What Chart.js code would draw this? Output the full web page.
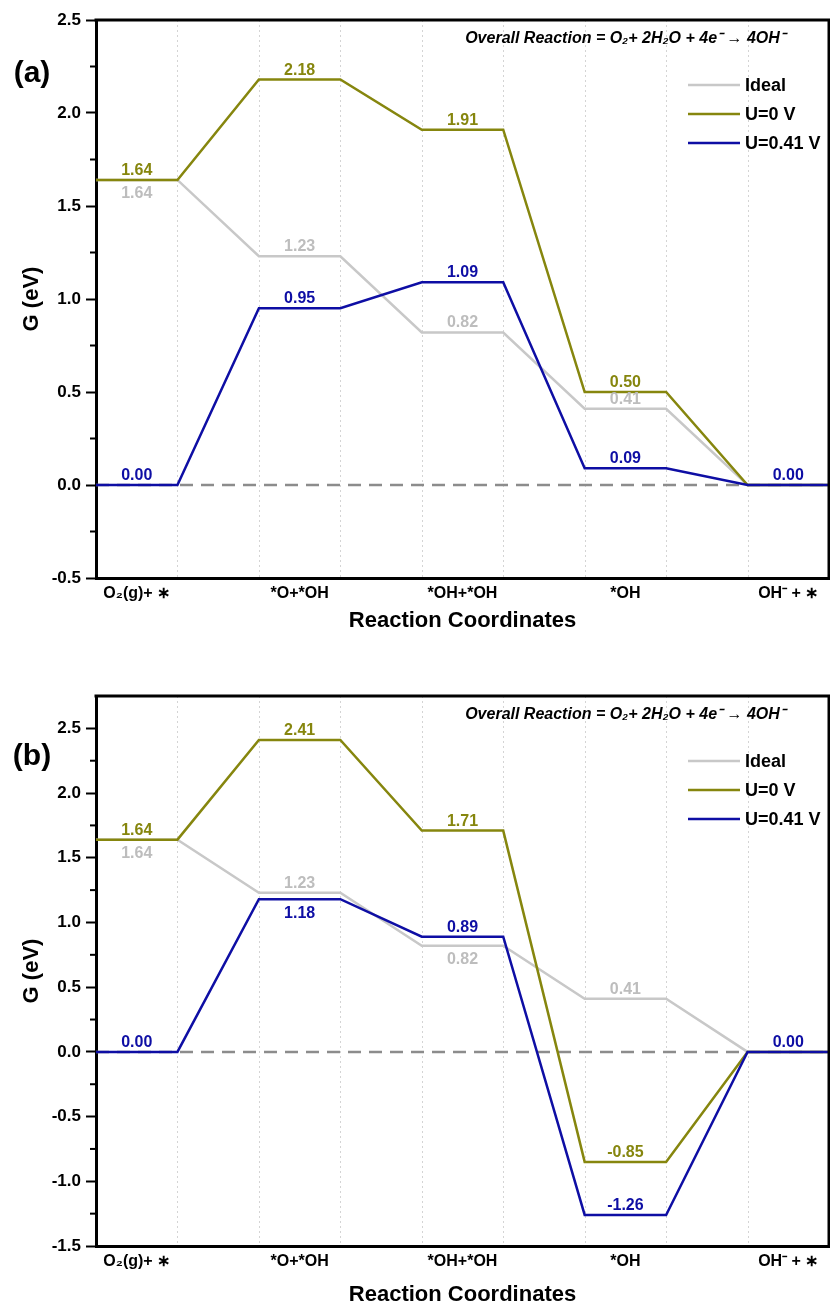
<!DOCTYPE html>
<html>
<head>
<meta charset="utf-8">
<script src="https://cdn.jsdelivr.net/npm/chart.js@4.4.0/dist/chart.umd.min.js"></script>
<style>
    html, body { margin: 0; padding: 0; background: #fff; }
    #wrap-a { position: absolute; left: 0; top: 0; width: 830px; height: 640px; }
    #wrap-b { position: absolute; left: 0; top: 640px; width: 830px; height: 668px; }
</style>
</head>
<body>
<div id="wrap-a"><canvas id="chart-a"></canvas></div>
<div id="wrap-b"><canvas id="chart-b"></canvas></div>
<script>
// reaction steps (x categories)
const steps = ['O\u2082(g)+ \u2217', '*O+*OH', '*OH+*OH', '*OH', 'OH\u207B + \u2217'];
const seriesNames = ['Ideal', 'U=0 V', 'U=0.41 V'];

// panel (a)
const idealA = [1.64, 1.23, 0.82, 0.41, 0.00];
const u0A = [1.64, 2.18, 1.91, 0.50, 0.00];
const u041A = [0.00, 0.95, 1.09, 0.09, 0.00];
const yTicksA = [-0.5, 0, 0.5, 1.0, 1.5, 2.0, 2.5];

// panel (b)
const idealB = [1.64, 1.23, 0.82, 0.41, 0.00];
const u0B = [1.64, 2.41, 1.71, -0.85, 0.00];
const u041B = [0.00, 1.18, 0.89, -1.26, 0.00];
const yTicksB = [-1.5, -1.0, -0.5, 0, 0.5, 1.0, 1.5, 2.0, 2.5];

const FONT = '"Liberation Sans", Arial, Helvetica, sans-serif';
const COLORS = ['#c8c8c8', '#86860e', '#0e0ea4'];
const TEXT_COLORS = ['#bdbdbd', '#86860e', '#0e0ea4'];

// each level occupies [2i, 2i+1] on the x scale, joined by sloped connectors
function levelPoints(values) {
    return values.flatMap((v, i) => [{ x: 2 * i, y: v }, { x: 2 * i + 1, y: v }]);
}
const levelCenters = steps.map((s, i) => 2 * i + 0.5);

// dotted step separators, frame, minor ticks
const framePlugin = {
    id: 'frame',
    beforeDatasetsDraw(chart) {
        const { ctx, chartArea: a, scales: { x } } = chart;
        ctx.save();
        ctx.strokeStyle = '#d4d4d4';
        ctx.lineWidth = 1;
        ctx.setLineDash([2, 3]);
        for (let k = 1; k < 2 * steps.length - 1; k++) {
            const px = Math.round(x.getPixelForValue(k)) + 0.5;
            ctx.beginPath();
            ctx.moveTo(px, a.top);
            ctx.lineTo(px, a.bottom);
            ctx.stroke();
        }
        ctx.restore();
    },
    afterDraw(chart) {
        const { ctx, chartArea: a, scales: { y } } = chart;
        ctx.save();
        ctx.strokeStyle = '#000';
        ctx.lineWidth = 3;
        ctx.beginPath();
        ctx.moveTo(a.left - 1.5, a.top);
        ctx.lineTo(a.right, a.top);
        ctx.lineTo(a.right, a.bottom + 1.5);
        ctx.stroke();
        // minor ticks every 0.25
        ctx.lineWidth = 2;
        for (let v = y.min + 0.25; v < y.max; v += 0.5) {
            const py = y.getPixelForValue(v);
            ctx.beginPath();
            ctx.moveTo(a.left - 6, py);
            ctx.lineTo(a.left, py);
            ctx.stroke();
        }
        ctx.restore();
    }
};

// value labels, legend, reaction text, panel letter
const annotatePlugin = {
    id: 'annotate',
    afterDatasetsDraw(chart, args, opts) {
        const { ctx, chartArea: a, scales: { x, y } } = chart;
        ctx.save();
        ctx.font = 'bold 16px ' + FONT;
        ctx.textAlign = 'center';
        chart.data.datasets.forEach(ds => {
            if (ds.seriesIndex === undefined) return;
            const sides = opts.sides[ds.seriesIndex];
            ds.levelValues.forEach((v, i) => {
                const side = sides[i];
                if (!side) return;
                const px = x.getPixelForValue(levelCenters[i]);
                const py = y.getPixelForValue(v);
                ctx.fillStyle = TEXT_COLORS[ds.seriesIndex];
                if (side === 'above') {
                    ctx.textBaseline = 'alphabetic';
                    ctx.fillText(v.toFixed(2), px, py - 5);
                } else {
                    ctx.textBaseline = 'top';
                    ctx.fillText(v.toFixed(2), px, py + 6);
                }
            });
        });

        // legend
        ctx.font = 'bold 18px ' + FONT;
        ctx.textAlign = 'left';
        ctx.textBaseline = 'middle';
        seriesNames.forEach((name, i) => {
            const ly = a.top + 65 + i * 29;
            const lx = a.right - 141;
            ctx.strokeStyle = COLORS[i];
            ctx.lineWidth = 2.5;
            ctx.beginPath();
            ctx.moveTo(lx, ly);
            ctx.lineTo(lx + 52, ly);
            ctx.stroke();
            ctx.fillStyle = '#000';
            ctx.fillText(name, lx + 57, ly + 1);
        });

        // overall reaction
        ctx.font = 'italic bold 16px ' + FONT;
        ctx.textAlign = 'center';
        ctx.fillText('Overall Reaction = O\u2082+ 2H\u2082O + 4e\u207B \u2192 4OH\u207B', 625, a.top + 19);

        // panel letter
        ctx.font = 'bold 30px ' + FONT;
        ctx.fillText(opts.letter, 32, opts.letterY);
        ctx.restore();
    }
};

function makeChart(canvasId, ideal, u0, u041, yMin, yMax, yTicks, topPad, titlePad, letter, letterY, sides) {
    const values = [ideal, u0, u041];
    const datasets = values.map((vals, i) => ({
        label: seriesNames[i],
        seriesIndex: i,
        levelValues: vals,
        data: levelPoints(vals),
        borderColor: COLORS[i],
        borderWidth: 2.5,
        pointRadius: 0,
        tension: 0,
        order: 2 - i
    }));
    datasets.push({
        label: 'zero',
        data: [{ x: 0, y: 0 }, { x: 2 * steps.length - 1, y: 0 }],
        borderColor: '#8c8c8c',
        borderWidth: 2.5,
        borderDash: [13, 8],
        pointRadius: 0,
        order: 5
    });

    return new Chart(document.getElementById(canvasId), {
        type: 'line',
        data: { datasets: datasets },
        plugins: [framePlugin, annotatePlugin],
        options: {
            responsive: true,
            maintainAspectRatio: false,
            animation: false,
            layout: { padding: { top: topPad, right: 1, left: 0, bottom: 0 } },
            plugins: {
                legend: { display: false },
                tooltip: { enabled: false },
                annotate: { letter: letter, letterY: letterY, sides: sides }
            },
            scales: {
                x: {
                    type: 'linear',
                    min: 0,
                    max: 2 * steps.length - 1,
                    afterBuildTicks: s => { s.ticks = levelCenters.map(v => ({ value: v })); },
                    afterFit: s => { s.height = 62; },
                    grid: { display: false, drawTicks: false },
                    border: { display: true, color: '#000', width: 3 },
                    ticks: {
                        color: '#000',
                        font: { family: FONT, size: 16, weight: 'bold' },
                        padding: 6,
                        maxRotation: 0,
                        autoSkip: false,
                        callback: v => steps[levelCenters.indexOf(v)] || ''
                    },
                    title: {
                        display: true,
                        text: 'Reaction Coordinates',
                        color: '#000',
                        font: { family: FONT, size: 22, weight: 'bold' },
                        padding: { top: 0, bottom: titlePad }
                    }
                },
                y: {
                    min: yMin,
                    max: yMax,
                    afterBuildTicks: s => { s.ticks = yTicks.map(v => ({ value: v })); },
                    afterFit: s => { s.width = 96; },
                    grid: { drawOnChartArea: false, drawTicks: true, tickLength: 10, tickWidth: 2, tickColor: '#000', color: '#000' },
                    border: { display: true, color: '#000', width: 3 },
                    ticks: {
                        color: '#000',
                        font: { family: FONT, size: 17, weight: 'bold' },
                        padding: 5,
                        callback: v => Number(v).toFixed(1)
                    },
                    title: {
                        display: true,
                        text: 'G (eV)',
                        color: '#000',
                        font: { family: FONT, size: 22, weight: 'bold' },
                        padding: { top: 19, bottom: 0 }
                    }
                }
            }
        }
    });
}

makeChart('chart-a', idealA, u0A, u041A, -0.5, 2.5, yTicksA, 20, 6, '(a)', 74, [
    ['below', 'above', 'above', 'above', null],
    ['above', 'above', 'above', 'above', null],
    ['above', 'above', 'above', 'above', 'above']
]);
makeChart('chart-b', idealB, u0B, u041B, -1.5, 2.75, yTicksB, 56, 0, '(b)', 117, [
    ['below', 'above', 'below', 'above', null],
    ['above', 'above', 'above', 'above', null],
    ['above', 'below', 'above', 'above', 'above']
]);
</script>
</body>
</html>
